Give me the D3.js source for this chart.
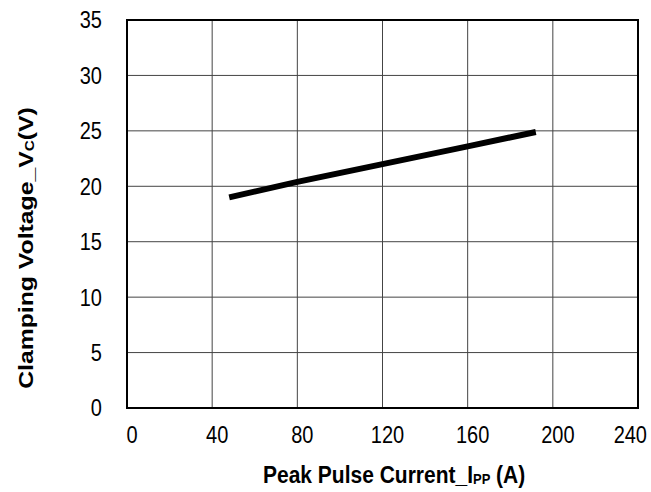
<!DOCTYPE html>
<html><head><meta charset="utf-8">
<script src="https://cdn.jsdelivr.net/npm/d3@7"></script>
<style>body{margin:0;background:#fff}svg{display:block}text{font-family:"Liberation Sans",Arial,sans-serif}</style>
</head><body><svg id="c" width="651" height="492"></svg>
<script>
const currentA = [48, 80, 120, 160, 192];
const voltageV = [19.0, 20.4, 22.0, 23.6, 24.9];
const xTicks = [0, 40, 80, 120, 160, 200, 240];
const yTicks = [0, 5, 10, 15, 20, 25, 30, 35];

const svg = d3.select("#c");
const m = {l:127, r:638, t:20, b:408};
const x = d3.scaleLinear().domain([0,240]).range([m.l,m.r]);
const y = d3.scaleLinear().domain([0,35]).range([m.b,m.t]);
const S = 1.18;

const g = svg.append("g");
g.selectAll(".vg").data(xTicks.slice(1,-1)).enter().append("line")
 .attr("x1",d=>x(d)).attr("x2",d=>x(d)).attr("y1",m.t).attr("y2",m.b)
 .attr("stroke","#444").attr("stroke-width",1);
g.selectAll(".hg").data(yTicks.slice(1,-1)).enter().append("line")
 .attr("y1",d=>y(d)).attr("y2",d=>y(d)).attr("x1",m.l).attr("x2",m.r)
 .attr("stroke","#444").attr("stroke-width",1);
g.append("rect").attr("x",m.l).attr("y",m.t).attr("width",m.r-m.l).attr("height",m.b-m.t)
 .attr("fill","none").attr("stroke","#000").attr("stroke-width",2);

g.selectAll(".xt").data(xTicks).enter().append("text")
 .attr("text-anchor","middle").attr("font-size",20).text(d=>d)
 .each(function(d){
   const w=this.getComputedTextLength();
   let cx=x(d)+5;
   if(cx+w/2>647) cx=647-w/2;
   this.setAttribute("transform",`translate(${cx},443) scale(1,${S})`);
 });
g.selectAll(".yt").data(yTicks).enter().append("text")
 .attr("transform",d=>`translate(102,${y(d)+8.4}) scale(1,${S})`)
 .attr("text-anchor","end").attr("font-size",20).text(d=>d);

const line = d3.line().x((d,i)=>x(currentA[i])).y(d=>y(d));
g.append("path").attr("d",line(voltageV)).attr("fill","none").attr("stroke","#000").attr("stroke-width",6);

const xt = svg.append("text").attr("transform",`translate(263,483) scale(1,${S})`).attr("text-anchor","start")
 .attr("font-size",21).attr("font-weight","bold");
xt.append("tspan").text("Peak Pulse Current_I");
xt.append("tspan").attr("font-size",13).attr("dy",1).text("PP");
xt.append("tspan").attr("dy",-1).text(" (A)");

const yt = svg.append("text").attr("transform",`translate(33,248) rotate(-90) scale(${S},1)`).attr("text-anchor","middle")
 .attr("font-size",21).attr("font-weight","bold");
yt.append("tspan").text("Clamping Voltage_V");
yt.append("tspan").attr("font-size",13).attr("dy",1).text("C");
yt.append("tspan").attr("dy",-1).text("(V)");
</script></body></html>
